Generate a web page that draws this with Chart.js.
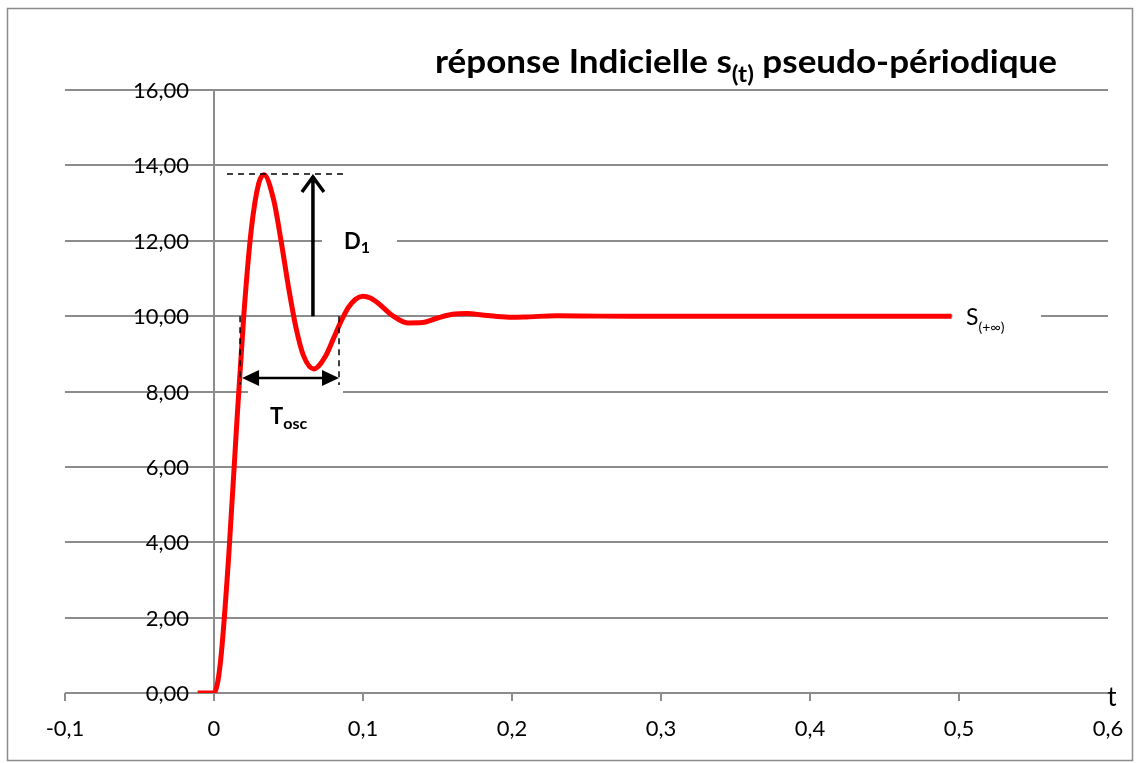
<!DOCTYPE html>
<html>
<head>
<meta charset="utf-8">
<script src="https://cdn.jsdelivr.net/npm/chart.js@4.4.0/dist/chart.umd.min.js"></script>
<style>
  body { margin: 0; background: #fff; }
  #wrap { width: 1137px; height: 763px; position: relative; }
</style>
</head>
<body>
<div id="wrap"><canvas id="chart1"></canvas></div>
<script>
// time values (s) and step response s(t)
var t_values = [-0.011, -0.005, 0, 0.0025, 0.005, 0.01, 0.015, 0.02, 0.025, 0.03, 0.0335, 0.04, 0.045, 0.05, 0.055, 0.06, 0.067, 0.075, 0.08, 0.085, 0.09, 0.095, 0.1, 0.105, 0.11, 0.12, 0.13, 0.14, 0.15, 0.16, 0.17, 0.18, 0.19, 0.2, 0.21, 0.23, 0.26, 0.3, 0.35, 0.4, 0.45, 0.495];
var s_values = [0, 0, 0, 0.29, 1.08, 3.71, 6.97, 10.02, 12.29, 13.52, 13.75, 13.09, 12.00, 10.77, 9.70, 8.96, 8.60, 8.95, 9.39, 9.84, 10.22, 10.45, 10.53, 10.48, 10.35, 10.01, 9.82, 9.83, 9.95, 10.05, 10.07, 10.03, 9.99, 9.97, 9.98, 10.01, 10, 10, 10, 10, 10, 10];

var x_ticks = [-0.1, 0, 0.1, 0.2, 0.3, 0.4, 0.5, 0.6];
var y_ticks = [0, 2, 4, 6, 8, 10, 12, 14, 16];

// annotation anchors in data units
var s_final = 10;
var d1_top = 13.77;
var t_peak_line = [0.0087, 0.0866];
var t_arrow = 0.0664;
var t_osc = [0.0175, 0.0839];
var y_osc_end = 8.17;
var y_osc_arrow = 8.36;

var points = t_values.map(function (t, i) { return { x: t, y: s_values[i] }; });

var GRID = '#8c8c8c';
var FONT = 'Lato, "Open Sans", sans-serif';

function fr(v, dec) {
    return v.toFixed(dec).replace('.', ',');
}

function textSub(ctx, x, y, main, sub, f1, f2, dy, after) {
    ctx.font = f1;
    ctx.fillText(main, x, y);
    var w = ctx.measureText(main).width;
    ctx.font = f2;
    ctx.fillText(sub, x + w, y + dy);
    var w2 = ctx.measureText(sub).width;
    if (after) {
        ctx.font = f1;
        ctx.fillText(after, x + w + w2, y);
    }
}

function whiteBox(ctx, x1, y1, x2, y2) {
    ctx.fillStyle = '#fff';
    ctx.fillRect(x1, y1, x2 - x1, y2 - y1);
}

var decor = {
    id: 'decor',
    beforeDatasetsDraw: function (chart) {
        var ctx = chart.ctx;
        var xs = chart.scales.x, ys = chart.scales.y;
        var x0 = xs.getPixelForValue(0);
        var yb = ys.getPixelForValue(0);
        ctx.save();
        // boxes behind the labels
        whiteBox(ctx, 322, ys.getPixelForValue(12) - 14, 397, ys.getPixelForValue(12) + 14);
        whiteBox(ctx, 248, ys.getPixelForValue(8) - 2, 343, ys.getPixelForValue(8) + 44);
        whiteBox(ctx, xs.getPixelForValue(0.495) + 1, ys.getPixelForValue(s_final) - 14, 1041, ys.getPixelForValue(s_final) + 22);

        // y axis line at t = 0
        ctx.strokeStyle = GRID;
        ctx.lineWidth = 2;
        ctx.beginPath();
        ctx.moveTo(x0, ys.getPixelForValue(16));
        ctx.lineTo(x0, yb);
        ctx.stroke();
        // tick marks on x axis
        x_ticks.forEach(function (v) {
            if (v >= 0.6) return;
            var px = xs.getPixelForValue(v);
            ctx.beginPath();
            ctx.moveTo(px, yb);
            ctx.lineTo(px, yb + 8);
            ctx.stroke();
        });

        ctx.fillStyle = '#000';
        ctx.font = '22px ' + FONT;
        ctx.textAlign = 'right';
        ctx.textBaseline = 'middle';
        y_ticks.forEach(function (v) {
            ctx.fillText(fr(v, 2), x0 - 25, ys.getPixelForValue(v) + 1);
        });
        ctx.textAlign = 'center';
        x_ticks.forEach(function (v) {
            ctx.fillText(v === 0 ? '0' : fr(v, 1), xs.getPixelForValue(v), yb + 36);
        });
        ctx.font = '26px ' + FONT;
        ctx.fillText('t', xs.getPixelForValue(0.6) + 4, yb + 5);
        ctx.restore();
    },
    afterDatasetsDraw: function (chart) {
        var ctx = chart.ctx;
        var xs = chart.scales.x, ys = chart.scales.y;
        ctx.save();
        ctx.strokeStyle = '#000';
        ctx.fillStyle = '#000';

        // dashed lines
        ctx.lineWidth = 1.5;
        ctx.setLineDash([6, 5]);
        var yTop = ys.getPixelForValue(d1_top);
        ctx.beginPath();
        ctx.moveTo(xs.getPixelForValue(t_peak_line[0]), yTop);
        ctx.lineTo(xs.getPixelForValue(t_peak_line[1]), yTop);
        t_osc.forEach(function (t) {
            ctx.moveTo(xs.getPixelForValue(t), ys.getPixelForValue(s_final));
            ctx.lineTo(xs.getPixelForValue(t), ys.getPixelForValue(y_osc_end));
        });
        ctx.stroke();
        ctx.setLineDash([]);

        // D1 arrow
        var xa = xs.getPixelForValue(t_arrow);
        ctx.lineWidth = 3.5;
        ctx.beginPath();
        ctx.moveTo(xa, ys.getPixelForValue(s_final));
        ctx.lineTo(xa, yTop + 2);
        ctx.moveTo(xa - 11, yTop + 18);
        ctx.lineTo(xa, yTop + 3);
        ctx.lineTo(xa + 11, yTop + 18);
        ctx.stroke();

        // Tosc double arrow
        var ya = ys.getPixelForValue(y_osc_arrow);
        var xl = xs.getPixelForValue(t_osc[0]) + 2, xr = xs.getPixelForValue(t_osc[1]);
        ctx.lineWidth = 2.5;
        ctx.beginPath();
        ctx.moveTo(xl + 10, ya);
        ctx.lineTo(xr - 10, ya);
        ctx.stroke();
        ctx.beginPath();
        ctx.moveTo(xl, ya);
        ctx.lineTo(xl + 17, ya - 8);
        ctx.lineTo(xl + 17, ya + 8);
        ctx.closePath();
        ctx.moveTo(xr, ya);
        ctx.lineTo(xr - 17, ya - 8);
        ctx.lineTo(xr - 17, ya + 8);
        ctx.closePath();
        ctx.fill();

        // labels
        ctx.textAlign = 'left';
        ctx.textBaseline = 'alphabetic';
        textSub(ctx, 344, ys.getPixelForValue(12) + 8, 'D', '1', 'bold 22px ' + FONT, 'bold 16px ' + FONT, 4);
        textSub(ctx, 270, 424, 'T', 'osc', 'bold 22px ' + FONT, 'bold 16px ' + FONT, 5);
        textSub(ctx, 966, ys.getPixelForValue(s_final) + 9, 'S', '(+\u221e)', '23px ' + FONT, '14px ' + FONT, 7);

        // title, fitted to the width it has in the picture
        var f1 = 'bold 33px ' + FONT, f2 = 'bold 23px ' + FONT;
        ctx.font = f1;
        var w = ctx.measureText('r\u00e9ponse Indicielle s').width + ctx.measureText(' pseudo-p\u00e9riodique').width;
        ctx.font = f2;
        w += ctx.measureText('(t)').width;
        ctx.save();
        ctx.translate(435, 0);
        ctx.scale(622 / w, 1);
        textSub(ctx, 0, 73, 'r\u00e9ponse Indicielle s', '(t)', f1, f2, 9, ' pseudo-p\u00e9riodique');
        ctx.restore();

        // outer frame
        ctx.strokeStyle = GRID;
        ctx.lineWidth = 1.5;
        ctx.strokeRect(7.5, 8.5, 1125, 752);
        ctx.restore();
    }
};

var my_ctx = document.getElementById('chart1');
var myChart1 = new Chart(my_ctx, {
    type: 'line',
    data: {
        datasets: [{
            label: 's(t)',
            data: points,
            borderColor: '#ff0000',
            borderWidth: 5,
            pointRadius: 0,
            cubicInterpolationMode: 'monotone',
            fill: false
        }]
    },
    options: {
        responsive: true,
        maintainAspectRatio: false,
        animation: false,
        layout: { padding: { left: 65, right: 29, top: 90, bottom: 70 } },
        plugins: { legend: { display: false }, tooltip: { enabled: false }, title: { display: false } },
        scales: {
            x: {
                type: 'linear',
                min: -0.1,
                max: 0.6,
                afterBuildTicks: function (s) { s.ticks = x_ticks.map(function (v) { return { value: v }; }); },
                ticks: { display: false },
                grid: { display: false, drawTicks: false },
                border: { display: false }
            },
            y: {
                min: 0,
                max: 16,
                afterBuildTicks: function (s) { s.ticks = y_ticks.map(function (v) { return { value: v }; }); },
                ticks: { display: false },
                grid: { color: GRID, lineWidth: 2, drawTicks: false },
                border: { display: false }
            }
        }
    },
    plugins: [decor]
});
</script>
</body>
</html>
